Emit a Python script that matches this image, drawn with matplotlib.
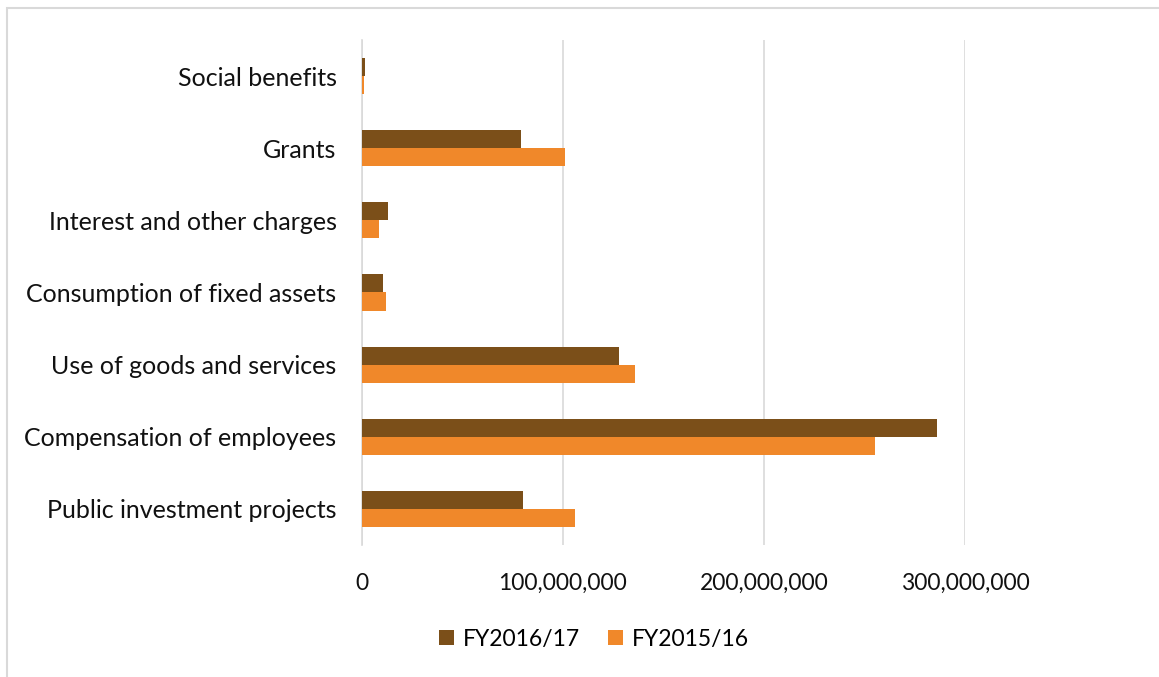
import matplotlib.pyplot as plt
import matplotlib.patches as mpatches
import numpy as np
from matplotlib.ticker import FuncFormatter

categories = ['Public investment projects', 'Compensation of employees', 'Use of goods and services',
              'Consumption of fixed assets', 'Interest and other charges', 'Grants', 'Social benefits']
fy2016_17 = [80e6, 286e6, 128e6, 10.5e6, 13e6, 79e6, 1.5e6]
fy2015_16 = [106e6, 255e6, 136e6, 12e6, 8.5e6, 101e6, 1e6]

plt.rcParams['font.family'] = ['Lato', 'DejaVu Sans']

fig = plt.figure(figsize=(11.59, 6.77), dpi=100)
ax = fig.add_axes([0.312, 0.195, 0.521, 0.746])

y = np.arange(len(categories))
h = 0.25
ax.barh(y + h / 2, fy2016_17, h, color='#7B4F19', label='FY2016/17', zorder=3)
ax.barh(y - h / 2, fy2015_16, h, color='#F0882A', label='FY2015/16', zorder=3)

ax.set_xlim(0, 300e6)
ax.set_ylim(-0.5, 6.5)
ax.set_yticks(y)
ax.set_yticklabels(categories, fontsize=18, color='#111111')
ax.set_xticks([0, 100e6, 200e6, 300e6])
ax.xaxis.set_major_formatter(FuncFormatter(lambda v, p: f'{v:,.0f}'))
ax.tick_params(axis='x', labelsize=16.5, colors='#111111', length=0, pad=20)
ax.tick_params(axis='y', length=0, pad=18)
ax.grid(axis='x', color='#d9d9d9', linewidth=1.2, zorder=0)
for s in ['top', 'right', 'bottom']:
    ax.spines[s].set_visible(False)
ax.spines['left'].set_color('#d9d9d9')
ax.spines['left'].set_linewidth(1.2)

ax.legend(loc='upper center', bbox_to_anchor=(0.385, -0.125), ncol=2, frameon=False,
          fontsize=16.5, handlelength=0.65, handleheight=0.65, handletextpad=0.4, columnspacing=1.2)

# light frame: only left and top edges visible in the crop
fig.patches.append(mpatches.Rectangle((7 / 1159, -0.1), 1.1, 1.1 - 8 / 677, transform=fig.transFigure,
                                      fill=False, edgecolor='#d9d9d9', linewidth=1.5))

fig.savefig('out.png', dpi=100)
